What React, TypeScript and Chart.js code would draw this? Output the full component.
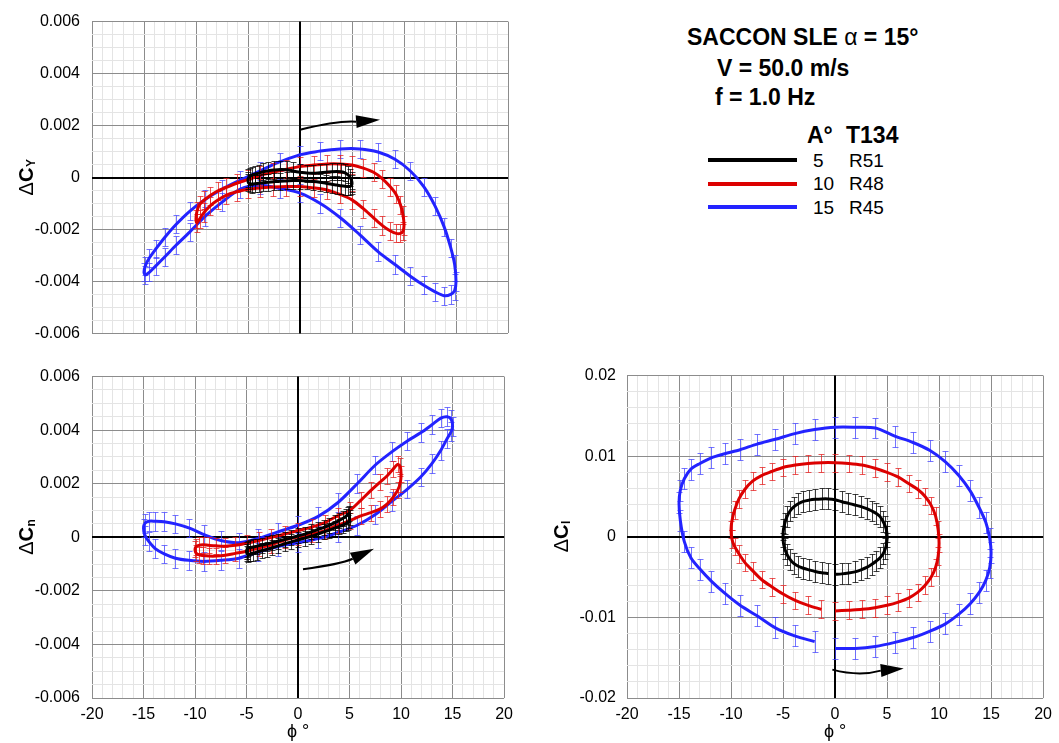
import React, { useEffect, useRef } from 'react';
import { Chart, registerables } from 'chart.js';

Chart.register(...registerables);

const FONT = '"Liberation Sans", Arial, Helvetica, sans-serif';
Chart.defaults.font.family = FONT;
Chart.defaults.color = '#000';

// ---- roll angle samples (deg) for the three amplitudes, one oscillation cycle ----
const PHI_5 = [0, 0.65, 1.29, 1.91, 2.5, 3.04, 3.54, 3.97, 4.33, 4.62, 4.83, 4.96, 5, 4.96, 4.83, 4.62, 4.33, 3.97, 3.54, 3.04, 2.5, 1.91, 1.29, 0.65, 0, -0.65, -1.29, -1.91, -2.5, -3.04, -3.54, -3.97, -4.33, -4.62, -4.83, -4.96, -5, -4.96, -4.83, -4.62, -4.33, -3.97, -3.54, -3.04, -2.5, -1.91, -1.29, -0.65];
const PHI_10 = [0, 1.31, 2.59, 3.83, 5, 6.09, 7.07, 7.93, 8.66, 9.24, 9.66, 9.91, 10, 9.91, 9.66, 9.24, 8.66, 7.93, 7.07, 6.09, 5, 3.83, 2.59, 1.31, 0, -1.31, -2.59, -3.83, -5, -6.09, -7.07, -7.93, -8.66, -9.24, -9.66, -9.91, -10, -9.91, -9.66, -9.24, -8.66, -7.93, -7.07, -6.09, -5, -3.83, -2.59, -1.31];
const PHI_15 = [0, 1.96, 3.88, 5.74, 7.5, 9.13, 10.61, 11.9, 12.99, 13.86, 14.49, 14.87, 15, 14.87, 14.49, 13.86, 12.99, 11.9, 10.61, 9.13, 7.5, 5.74, 3.88, 1.96, 0, -1.96, -3.88, -5.74, -7.5, -9.13, -10.61, -11.9, -12.99, -13.86, -14.49, -14.87, -15, -14.87, -14.49, -13.86, -12.99, -11.9, -10.61, -9.13, -7.5, -5.74, -3.88, -1.96];

// ---- coefficient values, in units of 0.001 ----
const CY_5 = [0.2, 0.17, 0.16, 0.18, 0.2, 0.22, 0.23, 0.22, 0.18, 0.1, 0.0, -0.12, -0.22, -0.3, -0.34, -0.35, -0.34, -0.32, -0.29, -0.26, -0.22, -0.18, -0.15, -0.13, -0.12, -0.12, -0.13, -0.14, -0.16, -0.18, -0.2, -0.22, -0.24, -0.25, -0.24, -0.2, -0.12, -0.02, 0.04, 0.09, 0.13, 0.17, 0.22, 0.26, 0.29, 0.31, 0.3, 0.25];
const CY_10 = [0.42, 0.48, 0.52, 0.52, 0.48, 0.36, 0.2, -0.05, -0.35, -0.65, -1.05, -1.45, -1.85, -2.05, -2.15, -2.15, -2.05, -1.85, -1.55, -1.2, -0.86, -0.65, -0.48, -0.4, -0.35, -0.35, -0.37, -0.4, -0.45, -0.55, -0.68, -0.88, -1.1, -1.35, -1.6, -1.75, -1.6, -1.3, -1.05, -0.88, -0.7, -0.52, -0.38, -0.22, -0.08, 0.08, 0.2, 0.32];
const CY_15 = [0.88, 1.02, 1.1, 1.1, 0.98, 0.7, 0.25, -0.35, -1.1, -1.9, -2.7, -3.35, -4.0, -4.35, -4.5, -4.55, -4.4, -4.15, -3.8, -3.35, -2.85, -2.2, -1.55, -1.0, -0.6, -0.42, -0.3, -0.45, -0.95, -1.5, -2.1, -2.6, -3.05, -3.4, -3.65, -3.75, -3.65, -3.4, -3.1, -2.75, -2.3, -1.8, -1.3, -0.85, -0.45, -0.1, 0.25, 0.6];

const CN_5 = [-0.1, -0.03, 0.04, 0.12, 0.2, 0.27, 0.34, 0.4, 0.45, 0.5, 0.55, 0.62, 0.75, 0.88, 0.85, 0.78, 0.7, 0.62, 0.54, 0.45, 0.37, 0.29, 0.2, 0.12, 0.05, -0.02, -0.08, -0.14, -0.2, -0.25, -0.29, -0.33, -0.36, -0.38, -0.4, -0.45, -0.52, -0.6, -0.63, -0.62, -0.59, -0.55, -0.5, -0.45, -0.39, -0.32, -0.24, -0.17];
const CN_10 = [0.02, 0.12, 0.25, 0.45, 0.62, 0.8, 0.92, 1.05, 1.25, 1.5, 1.75, 2.0, 2.35, 2.65, 2.72, 2.55, 2.3, 2.05, 1.75, 1.38, 1.0, 0.8, 0.55, 0.38, 0.25, 0.12, 0.0, -0.12, -0.22, -0.3, -0.33, -0.32, -0.3, -0.28, -0.3, -0.35, -0.45, -0.58, -0.65, -0.68, -0.7, -0.7, -0.67, -0.6, -0.52, -0.4, -0.28, -0.1];
const CN_15 = [-0.2, -0.05, 0.18, 0.45, 0.85, 1.35, 1.8, 2.25, 2.75, 3.25, 3.7, 3.95, 4.15, 4.4, 4.5, 4.45, 4.2, 3.9, 3.6, 3.2, 2.7, 2.0, 1.3, 0.78, 0.45, 0.2, -0.05, -0.2, -0.12, 0.1, 0.35, 0.5, 0.58, 0.6, 0.6, 0.52, 0.35, 0.08, -0.15, -0.42, -0.62, -0.78, -0.86, -0.9, -0.86, -0.78, -0.55, -0.35];

const CL_5 = [-4.65, -4.6, -4.5, -4.35, -4.1, -3.8, -3.4, -3.0, -2.6, -2.1, -1.5, -0.8, 0.0, 0.7, 1.3, 1.9, 2.5, 2.9, 3.2, 3.5, 3.75, 3.95, 4.15, 4.35, 4.6, 4.7, 4.7, 4.65, 4.55, 4.4, 4.1, 3.7, 3.2, 2.5, 1.7, 0.9, 0.0, -0.8, -1.5, -2.2, -2.8, -3.3, -3.65, -3.9, -4.1, -4.3, -4.45, -4.55];
const CL_10 = [-9.2, -9.1, -9.0, -8.8, -8.5, -8.1, -7.6, -6.9, -6.0, -5.0, -3.8, -2.4, -0.8, 0.9, 2.6, 3.9, 5.0, 5.9, 6.6, 7.4, 8.0, 8.5, 8.9, 9.1, 9.2, 9.2, 9.1, 8.9, 8.6, 8.1, 7.6, 6.9, 5.9, 4.7, 3.3, 2.0, 0.9, -0.3, -1.2, -2.1, -3.2, -4.2, -5.3, -6.2, -7.1, -7.9, -8.5, -9.0];
const CL_15 = [-13.85, -13.85, -13.6, -13.1, -12.5, -11.7, -10.8, -9.6, -8.3, -6.9, -5.4, -3.8, -2.0, -0.2, 1.8, 3.6, 5.7, 7.6, 9.3, 10.7, 11.7, 12.5, 13.5, 13.6, 13.6, 13.3, 12.8, 12.1, 11.5, 10.8, 10.3, 9.8, 9.1, 8.4, 7.2, 5.8, 4.2, 2.0, -0.6, -2.6, -4.0, -5.5, -7.0, -8.5, -9.8, -11.3, -12.3, -13.0];

// error-bar half heights (units of 0.001) for A = 5, 10, 15
const ERR_CY = [0.33, 0.35, 0.35];
const ERR_CN = [0.28, 0.3, 0.35];
const ERR_CL = [1.3, 1.1, 1.3];

// direction arrows: tail, mid, head base, tip (phi deg, value x0.001)
const ARROW_CY_PHI = [0, 3.2, 5.4, 7.7];
const ARROW_CY_VAL = [1.84, 2.1, 2.15, 2.22];
const ARROW_CN_PHI = [0.48, 3.5, 5.3, 7.37];
const ARROW_CN_VAL = [-1.19, -1.0, -0.8, -0.43];
const ARROW_CL_PHI = [-0.26, 2.2, 4.4, 6.6];
const ARROW_CL_VAL = [-16.48, -16.95, -16.6, -16.35];

// legend
const LEGEND_A = ['5', '10', '15'];
const LEGEND_RUN = ['R51', 'R48', 'R45'];

const MILLI = 0.001;
const LINE_COLORS = ['#000000', 'rgb(220,0,0)', 'rgb(35,35,255)'];
const ERR_COLORS = ['rgba(0,0,0,0.75)', 'rgba(228,30,30,0.75)', 'rgba(70,70,255,0.75)'];

function tickValues(min: number, max: number, step: number) {
  const start = Math.round(min / step);
  const n = Math.round((max - min) / step);
  const out: number[] = [];
  for (let i = 0; i <= n; i++) out.push((start + i) * step);
  return out;
}

const zeroLinePlugin = {
  id: 'zeroLines',
  beforeDatasetsDraw(chart: any) {
    const { ctx, chartArea, scales } = chart;
    const x0 = Math.round(scales.x.getPixelForValue(0));
    const y0 = Math.round(scales.y.getPixelForValue(0));
    ctx.save();
    ctx.strokeStyle = '#000';
    ctx.lineWidth = 2;
    ctx.beginPath();
    ctx.moveTo(x0, chartArea.top);
    ctx.lineTo(x0, chartArea.bottom);
    ctx.moveTo(chartArea.left, y0);
    ctx.lineTo(chartArea.right, y0);
    ctx.stroke();
    ctx.restore();
  },
};

const errorBarPlugin = {
  id: 'errorBars',
  beforeDatasetDraw(chart: any, args: any) {
    const ds = chart.data.datasets[args.index];
    if (!ds.errHalf) return;
    const { ctx, chartArea, scales } = chart;
    const xs = scales.x;
    const ys = scales.y;
    ctx.save();
    ctx.beginPath();
    ctx.rect(chartArea.left, chartArea.top, chartArea.right - chartArea.left, chartArea.bottom - chartArea.top);
    ctx.clip();
    ctx.strokeStyle = ds.errColor;
    ctx.lineWidth = 1;
    ctx.beginPath();
    for (let i = 0; i < ds.errCount; i++) {
      const p = ds.data[i];
      const x = Math.round(xs.getPixelForValue(p.x)) + 0.5;
      const y1 = Math.round(ys.getPixelForValue(p.y - ds.errHalf)) + 0.5;
      const y2 = Math.round(ys.getPixelForValue(p.y + ds.errHalf)) + 0.5;
      ctx.moveTo(x, y1);
      ctx.lineTo(x, y2);
      ctx.moveTo(x - 3, y1);
      ctx.lineTo(x + 3, y1);
      ctx.moveTo(x - 3, y2);
      ctx.lineTo(x + 3, y2);
    }
    ctx.stroke();
    ctx.restore();
  },
};

const yTitlePlugin = {
  id: 'yTitle',
  afterDraw(chart: any, _args: any, opts: any) {
    if (!opts || !opts.sub) return;
    const { ctx, chartArea } = chart;
    const cy = (chartArea.top + chartArea.bottom) / 2;
    ctx.save();
    ctx.translate(opts.baseline, cy);
    ctx.rotate(-Math.PI / 2);
    ctx.fillStyle = '#000';
    ctx.textBaseline = 'alphabetic';
    ctx.textAlign = 'left';
    const f1 = `20px ${FONT}`;
    const f2 = `bold 20px ${FONT}`;
    const f3 = `bold 12px ${FONT}`;
    ctx.font = f1;
    const w1 = ctx.measureText('Δ').width;
    ctx.font = f2;
    const w2 = ctx.measureText('C').width;
    ctx.font = f3;
    const w3 = ctx.measureText(opts.sub).width;
    let x = -(w1 + w2 + w3) / 2;
    ctx.font = f1;
    ctx.fillText('Δ', x, 0);
    x += w1;
    ctx.font = f2;
    ctx.fillText('C', x, 0);
    x += w2 + 0.5;
    ctx.font = f3;
    ctx.fillText(opts.sub, x, 2);
    ctx.restore();
  },
};

const arrowPlugin = {
  id: 'arrow',
  afterDatasetsDraw(chart: any, _args: any, opts: any) {
    if (!opts || !opts.phi) return;
    const { ctx, scales } = chart;
    const P = opts.phi.map((v: number, i: number) => [scales.x.getPixelForValue(v), scales.y.getPixelForValue(opts.val[i] * MILLI)]);
    const [t, m, b, tip] = P;
    ctx.save();
    ctx.strokeStyle = '#000';
    ctx.fillStyle = '#000';
    ctx.lineWidth = 2;
    const cx = 2 * m[0] - (t[0] + b[0]) / 2;
    const cyy = 2 * m[1] - (t[1] + b[1]) / 2;
    ctx.beginPath();
    ctx.moveTo(t[0], t[1]);
    ctx.quadraticCurveTo(cx, cyy, b[0], b[1]);
    ctx.stroke();
    const dx = tip[0] - b[0];
    const dy = tip[1] - b[1];
    const L = Math.hypot(dx, dy) || 1;
    const nx = -dy / L;
    const ny = dx / L;
    const hw = 6.5;
    ctx.beginPath();
    ctx.moveTo(tip[0], tip[1]);
    ctx.lineTo(b[0] + nx * hw, b[1] + ny * hw);
    ctx.lineTo(b[0] - nx * hw, b[1] - ny * hw);
    ctx.closePath();
    ctx.fill();
    ctx.restore();
  },
};

interface PanelSpec {
  values: number[][];
  errs: number[];
  closed: boolean;
  yMin: number;
  yMax: number;
  yMinor: number;
  yMajor: number;
  yDecimals: number;
  showX: boolean;
  yAxisWidth: number;
  xAxisHeight: number;
  padding: { top: number; right: number; bottom: number; left: number };
  ySub: string;
  yTitleBaseline: number;
  arrowPhi: number[];
  arrowVal: number[];
}

function buildConfig(spec: PanelSpec): any {
  const phis = [PHI_5, PHI_10, PHI_15];
  const datasets = spec.values.map((vals, idx) => {
    const pts = phis[idx].map((p, i) => ({ x: p, y: vals[i] * MILLI }));
    if (spec.closed) pts.push({ ...pts[0] });
    return {
      label: LEGEND_A[idx],
      data: pts,
      showLine: true,
      borderColor: LINE_COLORS[idx],
      backgroundColor: LINE_COLORS[idx],
      borderWidth: 3,
      pointRadius: 0,
      pointHoverRadius: 0,
      tension: 0.3,
      fill: false,
      errHalf: spec.errs[idx] * MILLI,
      errColor: ERR_COLORS[idx],
      errCount: phis[idx].length,
    };
  });

  const xTicks = tickValues(-20, 20, 1);
  const yTicks = tickValues(spec.yMin, spec.yMax, spec.yMinor);
  const isXMajor = (v: number) => Math.abs(Math.round(v / 5) * 5 - v) < 1e-6;
  const isYMajor = (v: number) => Math.abs(Math.round(v / spec.yMajor) * spec.yMajor - v) < spec.yMinor * 1e-3;

  return {
    type: 'scatter',
    data: { datasets },
    plugins: [zeroLinePlugin, errorBarPlugin, yTitlePlugin, arrowPlugin],
    options: {
      responsive: false,
      animation: false,
      devicePixelRatio: 1,
      events: [],
      layout: { padding: spec.padding },
      plugins: {
        legend: { display: false },
        tooltip: { enabled: false },
        yTitle: { sub: spec.ySub, baseline: spec.yTitleBaseline },
        arrow: { phi: spec.arrowPhi, val: spec.arrowVal },
      },
      scales: {
        x: {
          type: 'linear',
          min: -20,
          max: 20,
          afterBuildTicks: (s: any) => {
            s.ticks = xTicks.map((value) => ({ value }));
          },
          afterFit: (s: any) => {
            s.height = spec.xAxisHeight;
          },
          border: { display: false },
          grid: {
            drawTicks: false,
            color: (c: any) => {
              const v = c.tick ? c.tick.value : NaN;
              return isXMajor(v) ? '#8c8c8c' : '#e4e4e4';
            },
            lineWidth: 1,
          },
          ticks: {
            display: spec.showX,
            autoSkip: false,
            maxRotation: 0,
            padding: 7,
            font: { size: 16, family: FONT },
            color: '#000',
            callback: (v: number) => (isXMajor(v) ? String(Math.round(v)) : ''),
          },
          title: {
            display: spec.showX,
            text: 'ϕ °',
            font: { size: 18, family: FONT, lineHeight: 1 },
            padding: { top: 0, bottom: 2 },
            color: '#000',
          },
        },
        y: {
          type: 'linear',
          min: spec.yMin,
          max: spec.yMax,
          afterBuildTicks: (s: any) => {
            s.ticks = yTicks.map((value) => ({ value }));
          },
          afterFit: (s: any) => {
            s.width = spec.yAxisWidth;
          },
          border: { display: false },
          grid: {
            drawTicks: false,
            color: (c: any) => {
              const v = c.tick ? c.tick.value : NaN;
              return isYMajor(v) ? '#8c8c8c' : '#e4e4e4';
            },
            lineWidth: 1,
          },
          ticks: {
            autoSkip: false,
            padding: spec.yAxisWidth === 92 ? 12 : 11,
            font: { size: 16, family: FONT },
            color: '#000',
            callback: (v: number) => (isYMajor(v) ? String(Number(v.toFixed(spec.yDecimals))) : ''),
          },
        },
      },
    },
  };
}

const PANEL_CY: PanelSpec = {
  values: [CY_5, CY_10, CY_15],
  errs: ERR_CY,
  closed: true,
  yMin: -0.006,
  yMax: 0.006,
  yMinor: 0.0005,
  yMajor: 0.002,
  yDecimals: 3,
  showX: false,
  yAxisWidth: 92,
  xAxisHeight: 0,
  padding: { top: 15, right: 12, bottom: 14, left: 0 },
  ySub: 'Y',
  yTitleBaseline: 33,
  arrowPhi: ARROW_CY_PHI,
  arrowVal: ARROW_CY_VAL,
};

const PANEL_CN: PanelSpec = {
  values: [CN_5, CN_10, CN_15],
  errs: ERR_CN,
  closed: true,
  yMin: -0.006,
  yMax: 0.006,
  yMinor: 0.0005,
  yMajor: 0.002,
  yDecimals: 3,
  showX: true,
  yAxisWidth: 92,
  xAxisHeight: 45,
  padding: { top: 17, right: 12, bottom: 0, left: 0 },
  ySub: 'n',
  yTitleBaseline: 33,
  arrowPhi: ARROW_CN_PHI,
  arrowVal: ARROW_CN_VAL,
};

const PANEL_CL: PanelSpec = {
  values: [CL_5, CL_10, CL_15],
  errs: ERR_CL,
  closed: false,
  yMin: -0.02,
  yMax: 0.02,
  yMinor: 0.002,
  yMajor: 0.01,
  yDecimals: 2,
  showX: true,
  yAxisWidth: 97,
  xAxisHeight: 45,
  padding: { top: 17, right: 15, bottom: 0, left: 0 },
  ySub: 'l',
  yTitleBaseline: 38,
  arrowPhi: ARROW_CL_PHI,
  arrowVal: ARROW_CL_VAL,
};

function Txt(props: { left: number; cy: number; size: number; bold?: boolean; children: any }) {
  const { left, cy, size, bold, children } = props;
  return (
    <div
      style={{
        position: 'absolute',
        left,
        top: cy - size / 2,
        fontSize: size,
        lineHeight: `${size}px`,
        fontWeight: bold ? 'bold' : 'normal',
        whiteSpace: 'nowrap',
        color: '#000',
      }}
    >
      {children}
    </div>
  );
}

export default function App() {
  const r1 = useRef<HTMLCanvasElement>(null);
  const r2 = useRef<HTMLCanvasElement>(null);
  const r3 = useRef<HTMLCanvasElement>(null);

  useEffect(() => {
    const charts: Chart[] = [];
    if (r1.current) charts.push(new Chart(r1.current, buildConfig(PANEL_CY)));
    if (r2.current) charts.push(new Chart(r2.current, buildConfig(PANEL_CN)));
    if (r3.current) charts.push(new Chart(r3.current, buildConfig(PANEL_CL)));
    return () => charts.forEach((c) => c.destroy());
  }, []);

  const rowY = [160, 183.5, 207];

  return (
    <div
      style={{
        position: 'absolute',
        left: 0,
        top: 0,
        width: 1059,
        height: 743,
        background: '#fff',
        fontFamily: FONT,
        overflow: 'hidden',
      }}
    >
      <canvas ref={r1} width={520} height={355} style={{ position: 'absolute', left: 0, top: 0 }} />
      <canvas ref={r2} width={520} height={388} style={{ position: 'absolute', left: 0, top: 355 }} />
      <canvas ref={r3} width={529} height={388} style={{ position: 'absolute', left: 530, top: 355 }} />

      <Txt left={687} cy={37} size={23} bold>
        SACCON SLE <span style={{ fontWeight: 'normal' }}>α</span> = 15°
      </Txt>
      <Txt left={717} cy={68} size={23} bold>
        V = 50.0 m/s
      </Txt>
      <Txt left={715} cy={97} size={23} bold>
        f = 1.0 Hz
      </Txt>
      <Txt left={807} cy={135} size={23} bold>
        A°
      </Txt>
      <Txt left={846} cy={135} size={23} bold>
        T134
      </Txt>
      {LEGEND_A.map((a, i) => (
        <React.Fragment key={a}>
          <div
            style={{
              position: 'absolute',
              left: 708,
              top: rowY[i] - 2,
              width: 89,
              height: 4,
              background: LINE_COLORS[i],
            }}
          />
          <Txt left={813} cy={rowY[i]} size={19}>
            {a}
          </Txt>
          <Txt left={849} cy={rowY[i]} size={19}>
            {LEGEND_RUN[i]}
          </Txt>
        </React.Fragment>
      ))}
    </div>
  );
}
